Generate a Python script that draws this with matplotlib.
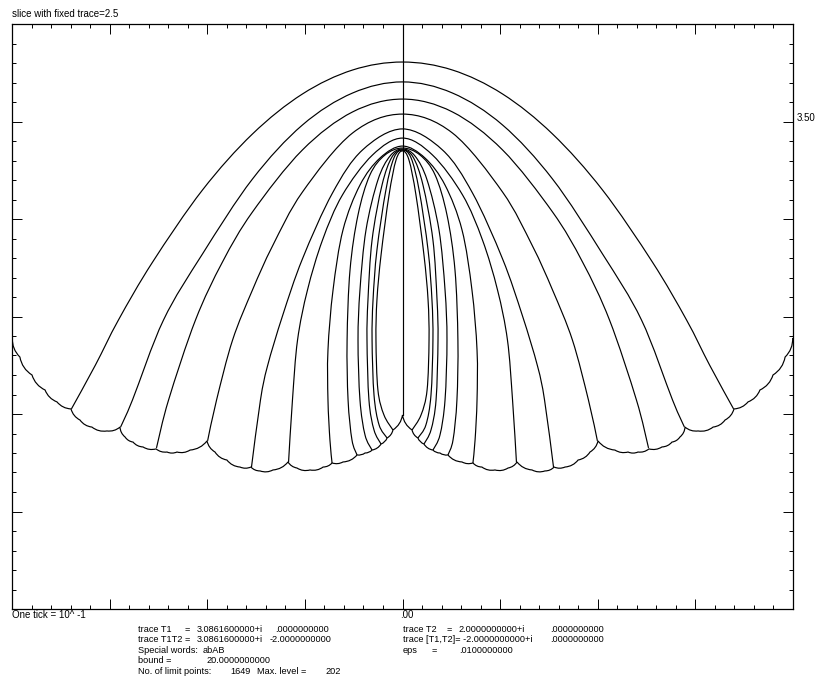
import numpy as np
import matplotlib
matplotlib.use("Agg")
import matplotlib.pyplot as plt
from matplotlib.path import Path
from matplotlib.patches import PathPatch
from matplotlib.ticker import MultipleLocator

plt.rcParams['font.family'] = ['Liberation Sans', 'DejaVu Sans']

# left half of each arch, from the apex (x=0) down to where it meets the boundary
# the picture is mirror symmetric about x=0
arch_1_x = [0, -0.256, -0.513, -0.769, -1.025, -1.281, -1.456, -1.574, -1.697]
arch_1_y = [3.805, 3.764, 3.641, 3.436, 3.149, 2.779, 2.482, 2.251, 2.026]
arch_2_x = [0, -0.256, -0.513, -0.769, -1.025, -1.225, -1.384, -1.445]
arch_2_y = [3.703, 3.646, 3.482, 3.205, 2.821, 2.482, 2.072, 1.933]
arch_3_x = [0, -0.256, -0.513, -0.769, -0.923, -1.061, -1.199, -1.261]
arch_3_y = [3.615, 3.549, 3.354, 3.036, 2.779, 2.482, 2.072, 1.826]
arch_4_x = [0, -0.256, -0.513, -0.666, -0.769, -0.871, -0.953, -0.999]
arch_4_y = [3.538, 3.441, 3.138, 2.862, 2.636, 2.379, 2.072, 1.862]
arch_5_x = [0, -0.205, -0.359, -0.513, -0.615, -0.692, -0.728, -0.774]
arch_5_y = [3.462, 3.354, 3.133, 2.795, 2.503, 2.246, 2.072, 1.728]
arch_6_x = [0, -0.154, -0.308, -0.410, -0.487, -0.538, -0.564, -0.584]
arch_6_y = [3.415, 3.328, 3.123, 2.892, 2.636, 2.379, 2.072, 1.754]
arch_7_x = [0, -0.115, -0.218, -0.305, -0.356, -0.382, -0.382, -0.372, -0.361]
arch_7_y = [3.374, 3.313, 3.174, 2.944, 2.636, 2.328, 2.072, 1.867, 1.749]
arch_8_x = [0, -0.090, -0.167, -0.228, -0.269, -0.284, -0.279, -0.259, -0.233]
arch_8_y = [3.364, 3.328, 3.226, 3.021, 2.738, 2.379, 2.072, 1.867, 1.790]
arch_9_x = [0, -0.064, -0.126, -0.187, -0.218, -0.228, -0.218, -0.192, -0.156]
arch_9_y = [3.359, 3.323, 3.200, 2.944, 2.636, 2.379, 2.072, 1.892, 1.815]
arch_10_x = [0, -0.054, -0.105, -0.156, -0.177, -0.182, -0.172, -0.146, -0.110]
arch_10_y = [3.354, 3.318, 3.174, 2.892, 2.585, 2.379, 2.072, 1.918, 1.846]
arch_11_x = [0, -0.044, -0.085, -0.131, -0.151, -0.156, -0.146, -0.120, -0.079]
arch_11_y = [3.354, 3.313, 3.149, 2.841, 2.585, 2.379, 2.097, 1.944, 1.877]
arch_12_x = [0, -0.033, -0.069, -0.110, -0.131, -0.136, -0.126, -0.095, -0.049]
arch_12_y = [3.349, 3.303, 3.123, 2.815, 2.585, 2.379, 2.123, 1.995, 1.918]

# scalloped lower boundary, left edge to the centre
bound_x = [-2.000, -1.961, -1.899, -1.832, -1.771, -1.699, -1.653, -1.592, -1.515,
           -1.448, -1.422, -1.381, -1.330, -1.263, -1.207, -1.156, -1.089, -1.002,
           -0.961, -0.900, -0.833, -0.777, -0.730, -0.664, -0.587, -0.541, -0.474,
           -0.407, -0.361, -0.305, -0.233, -0.192, -0.156, -0.110, -0.079, -0.049, 0]
bound_y = [2.390, 2.292, 2.200, 2.123, 2.062, 2.026, 1.969, 1.933, 1.913,
           1.933, 1.882, 1.856, 1.831, 1.821, 1.805, 1.805, 1.815, 1.862,
           1.805, 1.764, 1.728, 1.728, 1.708, 1.713, 1.754, 1.723, 1.713,
           1.728, 1.749, 1.754, 1.790, 1.800, 1.815, 1.846, 1.877, 1.918, 1.995]

# vertical line on the axis of symmetry
centre_y = [4.0, 1.995]

arches = [(arch_1_x, arch_1_y), (arch_2_x, arch_2_y), (arch_3_x, arch_3_y),
          (arch_4_x, arch_4_y), (arch_5_x, arch_5_y), (arch_6_x, arch_6_y),
          (arch_7_x, arch_7_y), (arch_8_x, arch_8_y), (arch_9_x, arch_9_y),
          (arch_10_x, arch_10_y), (arch_11_x, arch_11_y), (arch_12_x, arch_12_y)]


def smooth_path(xs, ys):
    # catmull-rom through the points, as cubic bezier pieces
    pts = np.column_stack([xs, ys]).astype(float)
    verts = [pts[0]]
    codes = [Path.MOVETO]
    n = len(pts)
    for i in range(n - 1):
        p0 = pts[max(i - 1, 0)]
        p1 = pts[i]
        p2 = pts[i + 1]
        p3 = pts[min(i + 2, n - 1)]
        verts += [p1 + (p2 - p0) / 6, p2 - (p3 - p1) / 6, p2]
        codes += [Path.CURVE4] * 3
    return Path(verts, codes)


def scallop_path(xs, ys, bulge=0.22):
    # every piece is a small arc bulging outwards (right hand side of travel)
    pts = np.column_stack([xs, ys]).astype(float)
    verts = [pts[0]]
    codes = [Path.MOVETO]
    for p, q in zip(pts[:-1], pts[1:]):
        d = q - p
        normal = np.array([d[1], -d[0]])
        verts += [(p + q) / 2 + bulge * normal, q]
        codes += [Path.CURVE3] * 2
    return Path(verts, codes)


fig = plt.figure(figsize=(8.17, 6.80), dpi=100)
ax = fig.add_axes([12.3 / 817, 71 / 680, 780.4 / 817, 585 / 680])
ax.set_xlim(-2, 2)
ax.set_ylim(1, 4)

for xs, ys in arches:
    full_x = list(xs[::-1]) + [-v for v in xs[1:]]
    full_y = list(ys[::-1]) + list(ys[1:])
    ax.add_patch(PathPatch(smooth_path(full_x, full_y), fill=False,
                           edgecolor="black", lw=0.85))

bx = list(bound_x) + [-v for v in bound_x[-2::-1]]
by = list(bound_y) + list(bound_y[-2::-1])
ax.add_patch(PathPatch(scallop_path(bx, by), fill=False, edgecolor="black", lw=0.85))

ax.plot([0, 0], centre_y, color="black", lw=0.85)

# frame and ticks
for s in ax.spines.values():
    s.set_linewidth(0.9)
ax.xaxis.set_major_locator(MultipleLocator(0.5))
ax.xaxis.set_minor_locator(MultipleLocator(0.1))
ax.yaxis.set_major_locator(MultipleLocator(0.5))
ax.yaxis.set_minor_locator(MultipleLocator(0.1))
ax.tick_params(which="both", direction="in", top=True, right=True,
               labelbottom=False, labelleft=False, width=0.7)
ax.tick_params(which="major", length=7)
ax.tick_params(which="minor", length=3.2)

fs = 7
ax.annotate(".00", xy=(0, 0), xycoords=("data", "axes fraction"),
            xytext=(-1.5, -4.3), textcoords="offset points",
            ha="left", va="center", fontsize=fs)
ax.annotate("3.50", xy=(1, 3.5), xycoords=("axes fraction", "data"),
            xytext=(3, 2.5), textcoords="offset points",
            ha="left", va="center", fontsize=fs)


def px_text(x, y, s, size=6.6):
    fig.text(x / 817, 1 - y / 680, s, ha="left", va="center", fontsize=size)


px_text(12.3, 14, "slice with fixed trace=2.5", fs)
px_text(12.3, 615, "One tick = 10^ -1", fs)

# parameter block under the plot
px_text(138.3, 629.5, "trace T1")
px_text(185, 629.5, "=")
px_text(196.7, 629.5, "3.0861600000+i")
px_text(275, 629.5, ".0000000000")
px_text(138.3, 640, "trace T1T2")
px_text(184.3, 640, "=")
px_text(196.7, 640, "3.0861600000+i")
px_text(269.3, 640, "-2.0000000000")
px_text(138.3, 650.3, "Special words:")
px_text(202.7, 650.3, "abAB")
px_text(138.3, 660.6, "bound =")
px_text(206.7, 660.6, "20.0000000000")
px_text(138.3, 671, "No. of limit points:")
px_text(230, 671, "1649")
px_text(256.7, 671, "Max. level =")
px_text(325, 671, "202")

px_text(402.7, 629.5, "trace T2")
px_text(446.7, 629.5, "=")
px_text(458.3, 629.5, "2.0000000000+i")
px_text(550, 629.5, ".0000000000")
px_text(402.7, 640, "trace [T1,T2]= -2.0000000000+i")
px_text(550, 640, ".0000000000")
px_text(402.7, 650.3, "eps")
px_text(431.7, 650.3, "=")
px_text(459.3, 650.3, ".0100000000")

fig.savefig("out.png", dpi=100)
